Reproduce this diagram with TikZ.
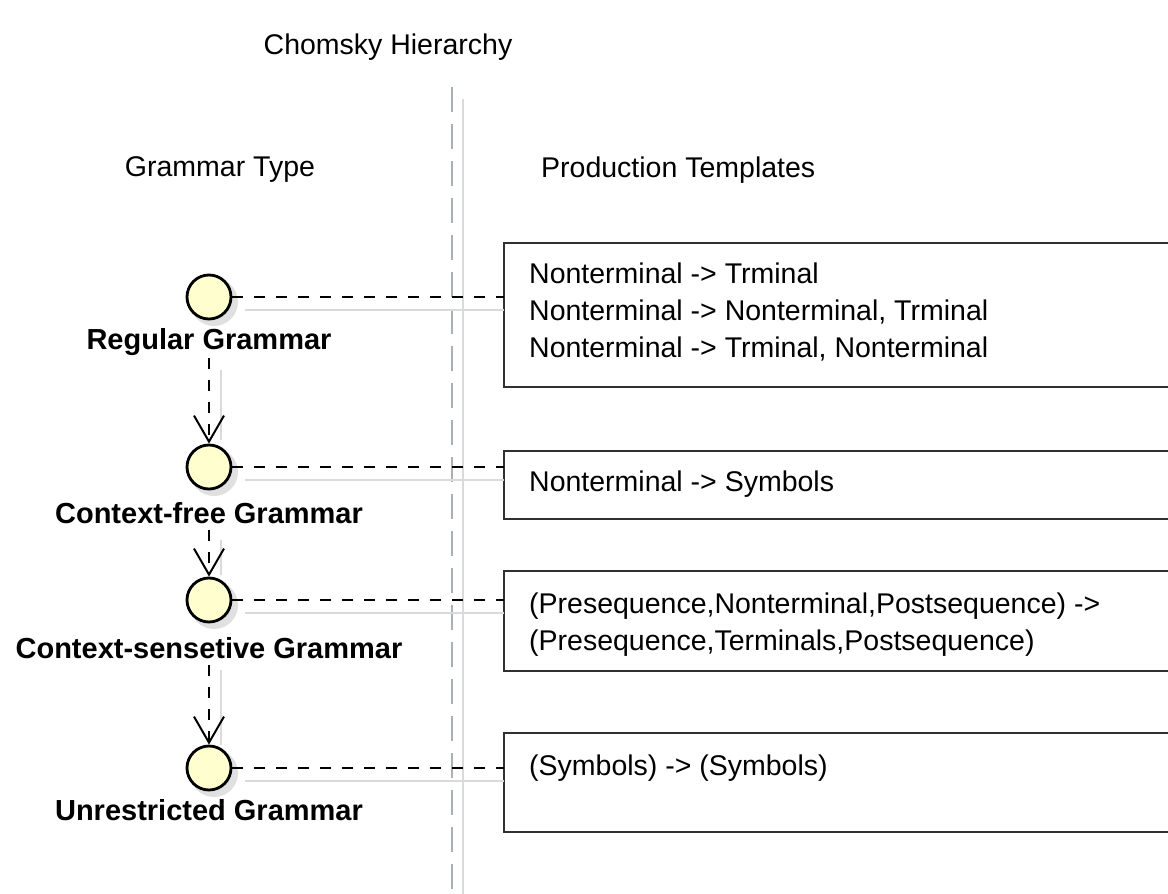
\documentclass[tikz,border=0pt]{standalone}
\usepackage{fontspec}
\setmainfont{Liberation Sans}
\usetikzlibrary{arrows.meta}
\definecolor{ifill}{HTML}{FEFECE}
\definecolor{shadowc}{HTML}{DADADA}
\definecolor{divc}{HTML}{A8B0B8}
\definecolor{boxc}{HTML}{303030}
\tikzset{
  iface/.style={circle,draw=black,line width=2.8pt,fill=ifill,minimum size=44pt,inner sep=0pt},
  ilabel/.style={font=\fontsize{29}{33}\selectfont\bfseries,inner sep=0pt},
  plain/.style={font=\fontsize{28.5}{34}\selectfont,inner sep=0pt},
  tline/.style={font=\fontsize{28.5}{34}\selectfont,inner sep=0pt,anchor=base west},
  conn/.style={line width=2pt,dash pattern=on 11pt off 11pt},
  shadowline/.style={draw=shadowc,line width=1.6pt},
  arr/.style={line width=2pt,dash pattern=on 11pt off 11pt,-{Straight Barb[length=26pt,width=30pt,line width=2pt]}},
  tbox/.style={draw=boxc,line width=2pt}
}
\begin{document}
\begin{tikzpicture}[x=1pt,y=-1pt]
\clip (0,0) rectangle (1168,894);
\fill[white] (0,0) rectangle (1168,894);
% title
\node[plain] (title) at (388,47) {Chomsky Hierarchy};
% divider
\draw[shadowline] (463,99) -- (463,894);
\draw[divc,line width=2pt,dash pattern=on 25pt off 12pt] (452,87) -- (452,894);
% column headers
\node[plain] (gt) at (220,170) {Grammar Type};
\node[plain,anchor=west] (pt) at (541,170) {Production Templates};
% boxes
\draw[tbox] (504,243) rectangle (1185,387);
\draw[tbox] (504,451) rectangle (1185,519);
\draw[tbox] (504,571) rectangle (1185,671);
\draw[tbox] (504,733) rectangle (1185,832);
\coordinate (b1) at (504,297);
\coordinate (b2) at (504,467);
\coordinate (b3) at (504,600);
\coordinate (b4) at (504,768);
\node[tline] (t1a) at (529,283) {Nonterminal -> Trminal};
\node[tline] (t1b) at (529,320) {Nonterminal -> Nonterminal, Trminal};
\node[tline] (t1c) at (529,357) {Nonterminal -> Trminal, Nonterminal};
\node[tline] (t2) at (529,491) {Nonterminal -> Symbols};
\node[tline] (t3a) at (529,613) {(Presequence,Nonterminal,Postsequence) ->};
\node[tline] (t3b) at (529,650) {(Presequence,Terminals,Postsequence)};
\node[tline] (t4) at (529,775) {(Symbols) -> (Symbols)};
% shadows of interfaces
\foreach \y in {297,467,600,768}{
  \fill[black!12] (214,\y+5) circle (24pt);
  \draw[shadowline] (245,\y+13) -- (504,\y+13);
}
\draw[shadowline] (221,370) -- (221,440);
\draw[shadowline] (221,540) -- (221,575);
\draw[shadowline] (221,670) -- (221,745);
% interfaces
\node[iface] (c1) at (209,297) {};
\node[iface] (c2) at (209,467) {};
\node[iface] (c3) at (209,600) {};
\node[iface] (c4) at (209,768) {};
\node[ilabel] (l1) at (209,342) {Regular Grammar};
\node[ilabel] (l2) at (209,513) {Context-free Grammar};
\node[ilabel] (l3) at (209,648) {Context-sensetive Grammar};
\node[ilabel] (l4) at (209,810) {Unrestricted Grammar};
% connectors
\draw[conn] (c1.east) -- (b1);
\draw[conn] (c2.east) -- (b2);
\draw[conn] (c3.east) -- (b3);
\draw[conn] (c4.east) -- (b4);
\draw[arr] (l1.south |- 0,358) -- (c2.north);
\draw[arr] (l2.south |- 0,530) -- (c3.north);
\draw[arr] (l3.south |- 0,665) -- (c4.north);
\end{tikzpicture}
\end{document}
